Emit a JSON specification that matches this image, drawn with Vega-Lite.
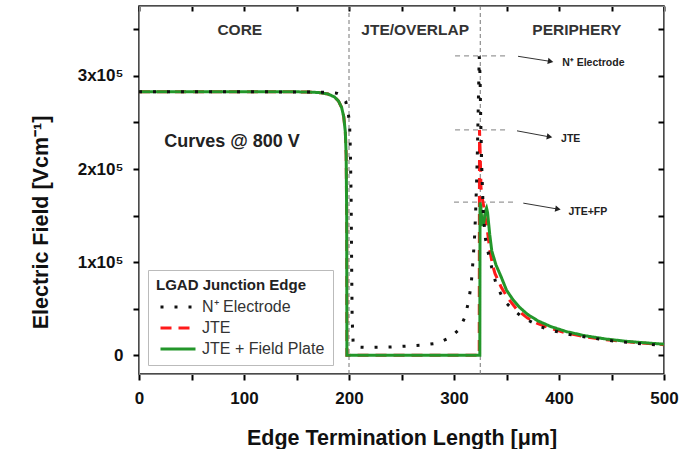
{
  "$schema": "https://vega.github.io/schema/vega-lite/v6.json",
  "width": 525,
  "height": 368,
  "autosize": {"type": "none"},
  "padding": {"left": 139, "top": 6, "right": 36, "bottom": 75},
  "background": "white",
  "config": {"view": {"stroke": "#111", "strokeWidth": 1.5}, "font": "Liberation Sans"},
  "datasets": {
    "curves": [
      {"s": "JTE", "x": 0, "y": 283000}, {"s": "JTE", "x": 100, "y": 283000}, {"s": "JTE", "x": 160, "y": 282800},
      {"s": "JTE", "x": 172, "y": 282000}, {"s": "JTE", "x": 180, "y": 280500}, {"s": "JTE", "x": 186, "y": 277500},
      {"s": "JTE", "x": 190, "y": 273000}, {"s": "JTE", "x": 193, "y": 266000}, {"s": "JTE", "x": 195, "y": 256000},
      {"s": "JTE", "x": 196.5, "y": 240000}, {"s": "JTE", "x": 197.3, "y": 215000}, {"s": "JTE", "x": 197.8, "y": 150000},
      {"s": "JTE", "x": 198, "y": 0}, {"s": "JTE", "x": 324, "y": 0}, {"s": "JTE", "x": 324.3, "y": 242000},
      {"s": "JTE", "x": 325, "y": 215000}, {"s": "JTE", "x": 325.7, "y": 180000}, {"s": "JTE", "x": 327, "y": 168000},
      {"s": "JTE", "x": 328.6, "y": 158000}, {"s": "JTE", "x": 330, "y": 146000}, {"s": "JTE", "x": 332, "y": 132000},
      {"s": "JTE", "x": 334.5, "y": 110000}, {"s": "JTE", "x": 337, "y": 96000}, {"s": "JTE", "x": 339, "y": 88000},
      {"s": "JTE", "x": 345, "y": 73000}, {"s": "JTE", "x": 351, "y": 62000}, {"s": "JTE", "x": 360, "y": 49000},
      {"s": "JTE", "x": 370, "y": 40000}, {"s": "JTE", "x": 380, "y": 34000}, {"s": "JTE", "x": 392, "y": 29000},
      {"s": "JTE", "x": 407, "y": 24000}, {"s": "JTE", "x": 425, "y": 20000}, {"s": "JTE", "x": 445, "y": 16800},
      {"s": "JTE", "x": 465, "y": 14500}, {"s": "JTE", "x": 485, "y": 12800}, {"s": "JTE", "x": 500, "y": 11500},

      {"s": "JTE + Field Plate", "x": 0, "y": 283000}, {"s": "JTE + Field Plate", "x": 100, "y": 283000},
      {"s": "JTE + Field Plate", "x": 160, "y": 282800}, {"s": "JTE + Field Plate", "x": 172, "y": 282000},
      {"s": "JTE + Field Plate", "x": 180, "y": 280500}, {"s": "JTE + Field Plate", "x": 186, "y": 277500},
      {"s": "JTE + Field Plate", "x": 190, "y": 273000}, {"s": "JTE + Field Plate", "x": 193, "y": 266000},
      {"s": "JTE + Field Plate", "x": 195, "y": 256000}, {"s": "JTE + Field Plate", "x": 196.5, "y": 240000},
      {"s": "JTE + Field Plate", "x": 197.3, "y": 215000}, {"s": "JTE + Field Plate", "x": 197.8, "y": 150000},
      {"s": "JTE + Field Plate", "x": 198, "y": 0}, {"s": "JTE + Field Plate", "x": 324.6, "y": 0},
      {"s": "JTE + Field Plate", "x": 324.8, "y": 164000}, {"s": "JTE + Field Plate", "x": 325.5, "y": 160000},
      {"s": "JTE + Field Plate", "x": 326.5, "y": 145000}, {"s": "JTE + Field Plate", "x": 327.3, "y": 139000},
      {"s": "JTE + Field Plate", "x": 328.5, "y": 144000}, {"s": "JTE + Field Plate", "x": 330, "y": 155000},
      {"s": "JTE + Field Plate", "x": 331, "y": 158000}, {"s": "JTE + Field Plate", "x": 332, "y": 153000},
      {"s": "JTE + Field Plate", "x": 334, "y": 130000}, {"s": "JTE + Field Plate", "x": 336, "y": 112000},
      {"s": "JTE + Field Plate", "x": 340, "y": 97000}, {"s": "JTE + Field Plate", "x": 345, "y": 84000},
      {"s": "JTE + Field Plate", "x": 350, "y": 70000}, {"s": "JTE + Field Plate", "x": 356, "y": 60000},
      {"s": "JTE + Field Plate", "x": 362, "y": 52000}, {"s": "JTE + Field Plate", "x": 370, "y": 44000},
      {"s": "JTE + Field Plate", "x": 380, "y": 37000}, {"s": "JTE + Field Plate", "x": 392, "y": 31000},
      {"s": "JTE + Field Plate", "x": 407, "y": 25500}, {"s": "JTE + Field Plate", "x": 425, "y": 21000},
      {"s": "JTE + Field Plate", "x": 445, "y": 17500}, {"s": "JTE + Field Plate", "x": 465, "y": 15000},
      {"s": "JTE + Field Plate", "x": 485, "y": 13200}, {"s": "JTE + Field Plate", "x": 500, "y": 12000},

      {"s": "N⁺ Electrode", "x": 0, "y": 283000}, {"s": "N⁺ Electrode", "x": 100, "y": 283000},
      {"s": "N⁺ Electrode", "x": 180, "y": 282500}, {"s": "N⁺ Electrode", "x": 188, "y": 281500},
      {"s": "N⁺ Electrode", "x": 193, "y": 279000}, {"s": "N⁺ Electrode", "x": 197, "y": 272000},
      {"s": "N⁺ Electrode", "x": 199, "y": 262000}, {"s": "N⁺ Electrode", "x": 200.5, "y": 250000},
      {"s": "N⁺ Electrode", "x": 201.3, "y": 220000}, {"s": "N⁺ Electrode", "x": 202, "y": 170000},
      {"s": "N⁺ Electrode", "x": 202.5, "y": 100000}, {"s": "N⁺ Electrode", "x": 203, "y": 40000},
      {"s": "N⁺ Electrode", "x": 204, "y": 12000}, {"s": "N⁺ Electrode", "x": 207, "y": 9000},
      {"s": "N⁺ Electrode", "x": 220, "y": 8500}, {"s": "N⁺ Electrode", "x": 240, "y": 9000},
      {"s": "N⁺ Electrode", "x": 256, "y": 10000}, {"s": "N⁺ Electrode", "x": 270, "y": 11000},
      {"s": "N⁺ Electrode", "x": 284, "y": 13000}, {"s": "N⁺ Electrode", "x": 296, "y": 19000},
      {"s": "N⁺ Electrode", "x": 305, "y": 28000}, {"s": "N⁺ Electrode", "x": 310, "y": 40000},
      {"s": "N⁺ Electrode", "x": 314, "y": 58000}, {"s": "N⁺ Electrode", "x": 316.5, "y": 78000},
      {"s": "N⁺ Electrode", "x": 318, "y": 100000}, {"s": "N⁺ Electrode", "x": 319.5, "y": 125000},
      {"s": "N⁺ Electrode", "x": 320.5, "y": 150000}, {"s": "N⁺ Electrode", "x": 321.5, "y": 185000},
      {"s": "N⁺ Electrode", "x": 322.3, "y": 220000}, {"s": "N⁺ Electrode", "x": 323, "y": 260000},
      {"s": "N⁺ Electrode", "x": 323.6, "y": 295000}, {"s": "N⁺ Electrode", "x": 324, "y": 321000},
      {"s": "N⁺ Electrode", "x": 324.8, "y": 300000}, {"s": "N⁺ Electrode", "x": 325.5, "y": 250000},
      {"s": "N⁺ Electrode", "x": 326.5, "y": 200000}, {"s": "N⁺ Electrode", "x": 328, "y": 150000},
      {"s": "N⁺ Electrode", "x": 330, "y": 125000}, {"s": "N⁺ Electrode", "x": 333, "y": 108000},
      {"s": "N⁺ Electrode", "x": 336, "y": 94000}, {"s": "N⁺ Electrode", "x": 340, "y": 77000},
      {"s": "N⁺ Electrode", "x": 345, "y": 65000}, {"s": "N⁺ Electrode", "x": 350, "y": 56000},
      {"s": "N⁺ Electrode", "x": 356, "y": 49000}, {"s": "N⁺ Electrode", "x": 363, "y": 43000},
      {"s": "N⁺ Electrode", "x": 370, "y": 38000}, {"s": "N⁺ Electrode", "x": 383, "y": 30500},
      {"s": "N⁺ Electrode", "x": 396, "y": 26000}, {"s": "N⁺ Electrode", "x": 410, "y": 22500},
      {"s": "N⁺ Electrode", "x": 430, "y": 18800}, {"s": "N⁺ Electrode", "x": 455, "y": 15000},
      {"s": "N⁺ Electrode", "x": 480, "y": 12300}, {"s": "N⁺ Electrode", "x": 500, "y": 10500}
    ],
    "vlines": [{"x": 200}, {"x": 325}],
    "hlines": [{"x": 301, "x2": 351, "y": 321500}, {"x": 301, "x2": 351, "y": 242000}, {"x": 300, "x2": 357, "y": 164500}],
    "arrows": [
      {"x": 361, "y": 321000, "x2": 392, "y2": 315500},
      {"x": 360, "y": 241000, "x2": 391, "y2": 234500},
      {"x": 366, "y": 163400, "x2": 399, "y2": 157000}
    ],
    "notes": [
      {"t": "N⁺ Electrode", "x": 403, "y": 314000},
      {"t": "JTE", "x": 402, "y": 232000},
      {"t": "JTE+FP", "x": 409, "y": 154000}
    ],
    "regions": [
      {"t": "CORE", "x": 96, "y": 349500},
      {"t": "JTE/OVERLAP", "x": 263, "y": 349500},
      {"t": "PERIPHERY", "x": 417, "y": 349500}
    ],
    "caption": [{"t": "Curves @ 800 V", "x": 24, "y": 229500}]
  },
  "layer": [
    {
      "data": {"name": "vlines"},
      "mark": {"type": "rule", "color": "#777", "strokeDash": [4, 3], "strokeWidth": 1},
      "encoding": {
        "x": {"field": "x", "type": "quantitative", "scale": {"domain": [0, 500], "nice": false, "zero": false},
          "axis": {"orient": "top", "values": [0, 50, 100, 150, 200, 250, 300, 350, 400, 450, 500], "labels": false, "title": null, "domain": true, "grid": false,
            "tickColor": "black", "tickWidth": 2, "tickSize": -5}}
      }
    },
    {
      "data": {"name": "hlines"},
      "mark": {"type": "rule", "color": "#999", "strokeDash": [5, 4], "strokeWidth": 1.3},
      "encoding": {
        "x": {"field": "x", "type": "quantitative",
          "axis": {"orient": "bottom", "values": [0, 50, 100, 150, 200, 250, 300, 350, 400, 450, 500], "labels": false, "title": null, "domain": true, "grid": false,
            "tickColor": "black", "tickWidth": 2, "tickSize": 6}},
        "x2": {"field": "x2"},
        "y": {"field": "y", "type": "quantitative", "scale": {"domain": [-20000, 375000], "nice": false, "zero": false},
          "axis": {"orient": "right", "values": [0, 50000, 100000, 150000, 200000, 250000, 300000, 350000], "labels": false, "title": null, "domain": true, "grid": false,
            "tickColor": "black", "tickWidth": 2, "tickSize": -6}}
      }
    },
    {
      "data": {"name": "arrows"},
      "mark": {"type": "rule", "color": "#333", "strokeWidth": 1},
      "encoding": {
        "x": {"field": "x", "type": "quantitative", "axis": null},
        "x2": {"field": "x2"},
        "y": {"field": "y", "type": "quantitative",
          "axis": {"orient": "left", "values": [0, 50000, 100000, 150000, 200000, 250000, 300000, 350000], "labels": false, "title": null, "domain": true, "grid": false,
            "tickColor": "black", "tickWidth": 2, "tickSize": 6}},
        "y2": {"field": "y2"}
      }
    },
    {
      "data": {"name": "arrows"},
      "mark": {"type": "point", "shape": "triangle-right", "filled": true, "color": "#222", "size": 40, "angle": 10, "opacity": 1},
      "encoding": {
        "x": {"field": "x2", "type": "quantitative", "axis": null},
        "y": {"field": "y2", "type": "quantitative", "axis": null}
      }
    },
    {
      "data": {"name": "notes"},
      "mark": {"type": "text", "align": "left", "baseline": "middle", "fontSize": 10.5, "fontWeight": "bold", "color": "#222"},
      "encoding": {
        "x": {"field": "x", "type": "quantitative", "axis": null},
        "y": {"field": "y", "type": "quantitative", "axis": null},
        "text": {"field": "t"}
      }
    },
    {
      "data": {"name": "regions"},
      "mark": {"type": "text", "align": "center", "baseline": "middle", "fontSize": 15.5, "fontWeight": "bold", "color": "#333"},
      "encoding": {
        "x": {"field": "x", "type": "quantitative", "axis": null},
        "y": {"field": "y", "type": "quantitative", "axis": null},
        "text": {"field": "t"}
      }
    },
    {
      "data": {"name": "caption"},
      "mark": {"type": "text", "align": "left", "baseline": "middle", "fontSize": 18, "fontWeight": "bold", "color": "#222"},
      "encoding": {
        "x": {"field": "x", "type": "quantitative", "axis": null},
        "y": {"field": "y", "type": "quantitative", "axis": null},
        "text": {"field": "t"}
      }
    },
    {
      "data": {"name": "curves"},
      "transform": [{"filter": "datum.s === 'JTE'"}],
      "mark": {"type": "line", "strokeWidth": 3},
      "encoding": {
        "x": {"field": "x", "type": "quantitative", "axis": null},
        "y": {"field": "y", "type": "quantitative", "axis": null},
        "color": {"field": "s", "type": "nominal",
          "scale": {"domain": ["N⁺ Electrode", "JTE", "JTE + Field Plate"], "range": ["#111111", "#ff1a1a", "#23962a"]},
          "legend": {"title": "LGAD Junction Edge", "orient": "none", "legendX": 9, "legendY": 264,
            "symbolType": "M-3.5,0H3.5", "symbolSize": 100, "symbolStrokeWidth": 3, "symbolOffset": 14, "labelOffset": 16,
            "titleFontSize": 15, "titleFontWeight": "bold", "titleColor": "#222", "titlePadding": 6,
            "labelFontSize": 16, "labelColor": "#333", "strokeColor": "#bbb", "fillColor": "white", "padding": 8, "rowPadding": 5}},
        "strokeDash": {"field": "s", "type": "nominal",
          "scale": {"domain": ["N⁺ Electrode", "JTE", "JTE + Field Plate"], "range": [[3, 11], [11, 7], [1, 0]]},
          "legend": {"title": "LGAD Junction Edge"}}
      }
    },
    {
      "data": {"name": "curves"},
      "transform": [{"filter": "datum.s === 'JTE + Field Plate'"}],
      "mark": {"type": "line", "strokeWidth": 3},
      "encoding": {
        "x": {"field": "x", "type": "quantitative",
          "axis": {"orient": "bottom", "values": [0, 100, 200, 300, 400, 500], "ticks": false, "domain": false, "grid": false,
            "labelFontSize": 17, "labelFontWeight": "bold", "labelColor": "#111", "labelPadding": 16, "labelFlush": false, "labelOverlap": false,
            "title": "Edge Termination Length [μm]", "titleFontSize": 21.5, "titleFontWeight": "bold", "titleColor": "#111",
            "titleY": 70, "titleBaseline": "alphabetic"}},
        "y": {"field": "y", "type": "quantitative",
          "axis": {"orient": "left", "values": [0, 100000, 200000, 300000], "ticks": false, "domain": false, "grid": false,
            "labelExpr": "datum.value === 0 ? '0' : (datum.value / 100000) + 'x10⁵'",
            "labelFontSize": 17, "labelFontWeight": "bold", "labelColor": "#111", "labelPadding": 16, "labelOverlap": false,
            "title": "Electric Field [Vcm⁻¹]", "titleFontSize": 21.5, "titleFontWeight": "bold", "titleColor": "#111",
            "titleAngle": -90, "titleX": -98, "titleY": 216, "titleAlign": "center", "titleBaseline": "middle"}},
        "color": {"field": "s", "type": "nominal"},
        "strokeDash": {"field": "s", "type": "nominal"}
      }
    },
    {
      "data": {"name": "curves"},
      "transform": [{"filter": "datum.s === 'N⁺ Electrode'"}],
      "mark": {"type": "line", "strokeWidth": 3},
      "encoding": {
        "x": {"field": "x", "type": "quantitative", "axis": null},
        "y": {"field": "y", "type": "quantitative", "axis": null},
        "color": {"field": "s", "type": "nominal"},
        "strokeDash": {"field": "s", "type": "nominal"}
      }
    }
  ],
  "resolve": {"axis": {"x": "independent", "y": "independent"}}
}
